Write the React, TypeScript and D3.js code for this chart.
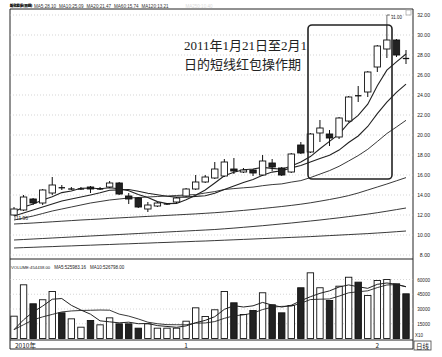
import React from "react";
import * as d3 from "d3";

// ---- data ----
const opens = [12.0, 12.5, 13.6, 13.2, 14.2, 14.75, 14.6, 14.6, 14.8, 14.6, 14.8, 15.2, 13.9, 13.7, 12.6, 12.9, 13.1, 13.3, 13.9, 14.6, 15.3, 15.7, 15.9, 16.6, 16.3, 16.5, 16.0, 17.2, 16.7, 16.3, 19.0, 18.3, 20.2, 20.1, 19.8, 21.4, 23.95, 24.3, 26.8, 28.6, 29.5, 27.7];
const closes = [12.6, 13.8, 13.2, 14.5, 15.0, 14.7, 14.6, 14.6, 14.6, 14.6, 15.2, 14.1, 13.6, 12.8, 13.0, 13.2, 13.1, 13.7, 14.6, 15.3, 15.8, 16.6, 17.3, 16.4, 16.5, 16.2, 17.4, 16.8, 16.0, 18.1, 18.2, 20.1, 20.7, 19.7, 21.7, 23.8, 23.9, 26.3, 28.9, 29.5, 28.0, 27.6];
const highs = [12.8, 14.0, 13.7, 14.6, 15.8, 15.0, 14.8, 14.8, 14.9, 14.8, 15.4, 15.3, 14.2, 13.8, 13.3, 13.3, 13.2, 13.8, 14.7, 16.0, 16.0, 17.3, 17.6, 17.7, 16.7, 16.6, 18.0, 17.6, 16.8, 18.2, 19.3, 20.2, 21.5, 20.5, 21.8, 23.9, 24.9, 26.4, 29.0, 31.0, 29.6, 28.5];
const lows = [11.96, 12.4, 13.0, 13.0, 14.0, 14.5, 14.5, 14.5, 14.2, 14.5, 14.7, 14.0, 13.1, 12.7, 12.3, 12.8, 13.0, 13.2, 13.8, 14.5, 15.2, 15.6, 15.8, 16.1, 16.2, 15.9, 15.9, 16.4, 15.9, 16.2, 18.1, 18.2, 19.3, 18.9, 19.6, 21.3, 23.3, 23.8, 26.3, 27.7, 27.8, 27.1];

const ma5 = [12.3, 12.8, 13.1, 13.5, 13.82, 14.24, 14.4, 14.68, 14.7, 14.62, 14.72, 14.62, 14.42, 14.06, 13.74, 13.34, 13.14, 13.16, 13.52, 13.98, 14.5, 15.2, 15.92, 16.28, 16.52, 16.6, 16.76, 16.66, 16.58, 16.9, 17.3, 17.84, 18.62, 19.36, 20.08, 21.2, 21.96, 23.08, 24.92, 26.48, 27.32, 28.1];
const ma10 = [11.9, 12.2, 12.5, 12.8, 13.1, 13.4, 13.6, 13.8, 14.0, 14.22, 14.48, 14.51, 14.55, 14.38, 14.18, 14.03, 13.88, 13.79, 13.79, 13.86, 13.92, 14.17, 14.54, 14.9, 15.25, 15.55, 15.98, 16.29, 16.43, 16.71, 16.95, 17.3, 17.64, 17.97, 18.49, 19.25, 19.9, 20.85, 22.14, 23.28, 24.26, 25.09];
const ma20 = [11.5, 11.7, 11.9, 12.15, 12.4, 12.6, 12.8, 13.0, 13.2, 13.35, 13.5, 13.6, 13.7, 13.75, 13.8, 13.85, 13.9, 13.95, 14.0, 14.04, 14.2, 14.34, 14.55, 14.64, 14.72, 14.79, 14.93, 15.04, 15.11, 15.29, 15.44, 15.74, 16.09, 16.44, 16.87, 17.4, 17.94, 18.57, 19.35, 20.15, 20.8, 21.47];
const ma60 = [11.1, 11.15, 11.2, 11.26, 11.32, 11.38, 11.44, 11.5, 11.55, 11.6, 11.66, 11.71, 11.76, 11.81, 11.86, 11.91, 11.96, 12.01, 12.06, 12.11, 12.17, 12.23, 12.3, 12.38, 12.46, 12.55, 12.65, 12.75, 12.85, 12.96, 13.08, 13.22, 13.38, 13.55, 13.73, 13.94, 14.2, 14.5, 14.8, 15.1, 15.42, 15.74];
const ma120 = [9.5, 9.55, 9.6, 9.65, 9.7, 9.75, 9.8, 9.85, 9.9, 9.95, 10.0, 10.05, 10.1, 10.15, 10.2, 10.25, 10.3, 10.35, 10.4, 10.45, 10.5, 10.55, 10.62, 10.69, 10.77, 10.85, 10.93, 11.02, 11.11, 11.2, 11.3, 11.4, 11.5, 11.61, 11.72, 11.84, 11.96, 12.09, 12.23, 12.38, 12.54, 12.7];
const ma250 = [8.7, 8.74, 8.77, 8.81, 8.84, 8.88, 8.91, 8.95, 8.98, 9.02, 9.05, 9.09, 9.12, 9.16, 9.19, 9.23, 9.26, 9.3, 9.33, 9.37, 9.4, 9.44, 9.48, 9.52, 9.56, 9.6, 9.64, 9.68, 9.72, 9.76, 9.8, 9.84, 9.89, 9.94, 9.99, 10.04, 10.09, 10.14, 10.2, 10.26, 10.33, 10.4];

// volume in display units (x10)
const volumes = [22700, 54600, 35300, 39400, 47800, 26100, 20000, 11500, 18300, 13900, 21000, 14900, 14900, 10500, 14900, 10500, 10500, 10500, 17600, 31200, 22400, 29200, 47800, 36300, 24400, 28500, 46500, 34300, 26100, 33600, 51600, 66800, 51600, 38600, 53200, 62300, 57300, 43700, 59000, 60000, 55600, 45444];
const volMa5 = [9000, 19000, 27000, 33000, 39960, 40640, 33720, 28960, 24740, 17960, 16940, 15920, 16600, 15040, 15240, 13140, 12260, 11380, 12800, 16060, 18440, 22180, 29640, 33380, 32020, 33240, 36700, 34000, 31960, 33800, 38420, 42480, 45940, 48440, 52360, 54500, 52600, 51020, 55100, 56460, 55120, 52598];
const volMa10 = [9000, 14000, 19000, 22000, 24500, 27000, 28000, 28500, 28700, 28960, 28790, 24820, 22780, 19890, 16600, 15040, 14090, 13990, 13920, 15650, 15790, 17220, 20510, 23090, 24040, 25840, 29440, 31820, 32670, 32910, 35830, 39590, 39970, 40200, 43080, 46460, 47540, 48480, 51770, 54410, 54810, 52680];

const priceTicks = [32, 30, 28, 26, 24, 22, 20, 18, 16, 14, 12, 10, 8];
const volTicks = [60000, 45000, 30000, 15000];
const dateTicks = [0, 18, 38];
const dateLabels = ["2010年", "1", "2"];

const stockName = "新化股份(日线)";
const maItems = ["MA5:28.10", "MA10:25.09", "MA20:21.47", "MA60:15.74", "MA120:13.21"];
const maHeaderFaint = "MA250:10.40";
const volItems = ["VOLUME:454438.00", "MA5:525983.16", "MA10:526798.00"];
const note1 = "2011年1月21日至2月1";
const note2 = "日的短线红包操作期";

export default function App() {
  const n = closes.length;
  const L = 10, R = 413, T = 9, PB = 259, VB = 340, B = 349;
  const x = d3.scaleLinear().domain([0, n - 1]).range([14, 406]);
  const yP = d3.scaleLinear().domain([8, 32]).range([255, 15]);
  const yV = d3.scaleLinear().domain([0, 60000]).range([338.5, 279.5]);
  const bw = 6.4;

  const pLine = d3.line<number>().x((_, i) => x(i)).y((d) => yP(d));
  const vLine = d3.line<number>().x((_, i) => x(i)).y((d) => yV(d));

  const font = "'Liberation Sans', Arial, sans-serif";
  const cw = 2.45; // char width of the small pixel-like labels
  const fs = 4.6;

  const hi = d3.maxIndex(highs);
  const lo = d3.minIndex(lows);

  let hx = 34;
  const headerPos = maItems.map((s) => {
    const p = hx;
    hx += s.length * cw + 3;
    return p;
  });
  let vx = 11;
  const volPos = volItems.map((s) => {
    const p = vx;
    vx += s.length * cw + 4;
    return p;
  });

  return (
    <svg width={442} height={357} style={{ position: "absolute", left: 0, top: 0, background: "#fff" }} fontFamily={font}>
      <rect x={0} y={0} width={442} height={357} fill="#fff" />
      {/* header */}
      <text x={L} y={7.3} fontSize={3.3} fontWeight="bold" fill="#111" fontFamily="'Noto Sans CJK SC', sans-serif" stroke="#111" strokeWidth={0.25}>{stockName}</text>
      {maItems.map((s, k) => (
        <text key={"h" + k} x={headerPos[k]} y={7.5} fontSize={fs} fill="#333" textLength={s.length * cw} lengthAdjust="spacingAndGlyphs">{s}</text>
      ))}
      <text x={hx + 14} y={7.5} fontSize={fs} fill="#dadada" textLength={maHeaderFaint.length * cw} lengthAdjust="spacingAndGlyphs">{maHeaderFaint}</text>

      {/* frame */}
      <line x1={L} x2={R} y1={T} y2={T} stroke="#222" strokeWidth={1} />
      <line x1={L} x2={L} y1={T} y2={B} stroke="#222" strokeWidth={1} />
      <line x1={R} x2={R} y1={T} y2={B} stroke="#222" strokeWidth={1} />
      <line x1={L} x2={R} y1={PB} y2={PB} stroke="#222" strokeWidth={1} />
      <line x1={L} x2={R} y1={VB} y2={VB} stroke="#222" strokeWidth={1} />
      <line x1={L} x2={R} y1={B} y2={B} stroke="#222" strokeWidth={1} />
      <rect x={406} y={10} width={5} height={5} fill="none" stroke="#aaa" strokeWidth={0.8} />

      {/* price grid + labels */}
      {priceTicks.map((t) => (
        <g key={"p" + t}>
          <line x1={L} x2={R} y1={yP(t)} y2={yP(t)} stroke="#bbb" strokeWidth={0.6} strokeDasharray="1,2" />
          <text x={430} y={yP(t) + 2.2} fontSize={6} textAnchor="end" textLength={t.toFixed(2).length * 2.55} lengthAdjust="spacingAndGlyphs" fill="#222">{t.toFixed(2)}</text>
        </g>
      ))}

      {/* volume grid + labels */}
      {volTicks.map((t) => (
        <g key={"v" + t}>
          <line x1={L} x2={R} y1={yV(t)} y2={yV(t)} stroke="#bbb" strokeWidth={0.6} strokeDasharray="1,2" />
          <text x={430} y={yV(t) + 2.2} fontSize={6} textAnchor="end" textLength={String(t).length * 2.55} lengthAdjust="spacingAndGlyphs" fill="#222">{t}</text>
        </g>
      ))}
      <text x={415} y={337} fontSize={5.5} textLength={8} lengthAdjust="spacingAndGlyphs" fill="#222">X10</text>
      <rect x={414} y={341} width={17} height={9} fill="none" stroke="#444" strokeWidth={0.8} />
      <text x={416} y={348.5} fontSize={6.5} fill="#222" fontFamily="'Noto Sans CJK SC', sans-serif">日线</text>

      {/* date labels */}
      {dateTicks.map((d, k) => (
        <text key={"d" + d} x={k === 0 ? 15 : x(d)} y={347.5} fontSize={6.5} textAnchor={k === 0 ? "start" : "middle"} fill="#222" fontFamily="'Noto Sans CJK SC', sans-serif">{dateLabels[k]}</text>
      ))}

      {/* moving averages (price) */}
      {[ma250, ma120, ma60, ma20, ma10, ma5].map((s, k) => (
        <path key={"ma" + k} d={pLine(s) || ""} fill="none" stroke="#222" strokeWidth={k >= 4 ? 1.1 : 0.9} />
      ))}

      {/* candles */}
      {closes.map((c, i) => {
        const o = opens[i];
        const down = c < o;
        const y1 = yP(Math.max(o, c));
        const y2 = yP(Math.min(o, c));
        const h = y2 - y1;
        return (
          <g key={"c" + i}>
            <line x1={x(i)} x2={x(i)} y1={yP(highs[i])} y2={yP(lows[i])} stroke="#111" strokeWidth={1} />
            {h < 1.2 ? (
              <line x1={x(i) - bw / 2} x2={x(i) + bw / 2} y1={(y1 + y2) / 2} y2={(y1 + y2) / 2} stroke="#111" strokeWidth={1.3} />
            ) : (
              <rect x={x(i) - bw / 2} y={y1} width={bw} height={h} fill={down ? "#222" : "#fff"} stroke="#111" strokeWidth={0.9} />
            )}
          </g>
        );
      })}

      {/* high / low markers */}
      <polyline points={`${x(hi)},${yP(highs[hi])} ${x(hi)},${yP(highs[hi]) - 10} ${x(hi) + 3},${yP(highs[hi]) - 10}`} fill="none" stroke="#333" strokeWidth={0.7} />
      <text x={x(hi) + 4} y={yP(highs[hi]) - 6} fontSize={6} textLength={11} lengthAdjust="spacingAndGlyphs" fill="#222">{highs[hi].toFixed(2)}</text>
      <line x1={x(lo) + 1} x2={x(lo) + 1} y1={yP(lows[lo])} y2={yP(lows[lo]) + 4} stroke="#333" strokeWidth={0.7} />
      <text x={x(lo) + 2} y={yP(lows[lo]) + 5} fontSize={6} textLength={12} lengthAdjust="spacingAndGlyphs" fill="#222">{lows[lo].toFixed(2)}</text>

      {/* annotation */}
      <rect x={308} y={25} width={84} height={154} rx={4} fill="none" stroke="#222" strokeWidth={1.6} />
      <text x={184} y={50} fontSize={13} fill="#222" fontFamily="'Liberation Serif', 'Noto Sans CJK SC', serif">{note1}</text>
      <text x={184} y={69} fontSize={13} fill="#222" fontFamily="'Liberation Serif', 'Noto Sans CJK SC', serif">{note2}</text>

      {/* volume header */}
      {volItems.map((s, k) => (
        <text key={"vh" + k} x={volPos[k]} y={268.5} fontSize={k === 0 ? 4.1 : fs} fill="#222" textLength={s.length * cw} lengthAdjust="spacingAndGlyphs">{s}</text>
      ))}

      {/* volume bars */}
      {volumes.map((v, i) => {
        const down = closes[i] < opens[i];
        return (
          <rect key={"v" + i} x={x(i) - bw / 2} y={yV(v)} width={bw} height={yV(0) - yV(v)} fill={down ? "#222" : "#fff"} stroke="#111" strokeWidth={0.9} />
        );
      })}
      <path d={vLine(volMa10) || ""} fill="none" stroke="#222" strokeWidth={0.9} />
      <path d={vLine(volMa5) || ""} fill="none" stroke="#222" strokeWidth={1} />
    </svg>
  );
}
